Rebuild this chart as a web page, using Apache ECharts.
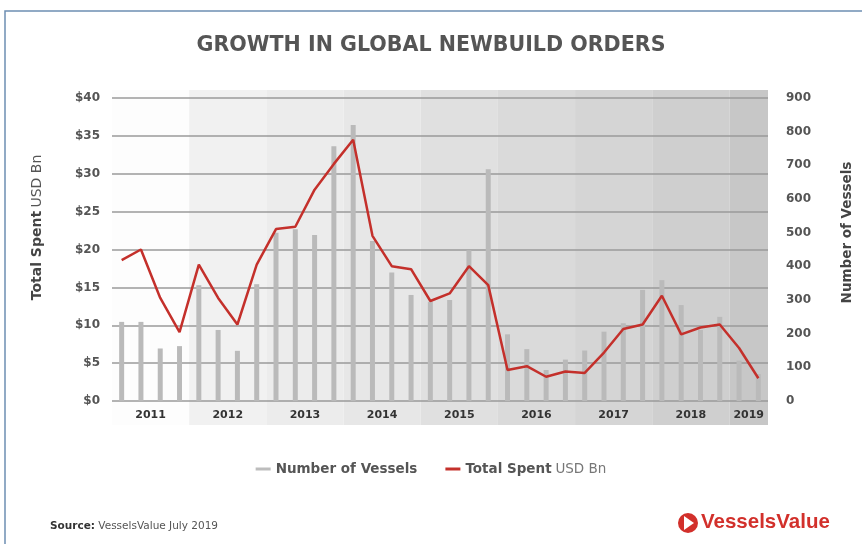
<!DOCTYPE html>
<html>
<head>
<meta charset="utf-8">
<script src="https://cdn.jsdelivr.net/npm/echarts@6/dist/echarts.min.js"></script>
<style>
html,body{margin:0;padding:0;background:#fff;}
#main{width:862px;height:544px;}
</style>
</head>
<body>
<div id="main"></div>
<script>
// ---- data ----
var quarters = ['2011 Q1','2011 Q2','2011 Q3','2011 Q4','2012 Q1','2012 Q2','2012 Q3','2012 Q4',
  '2013 Q1','2013 Q2','2013 Q3','2013 Q4','2014 Q1','2014 Q2','2014 Q3','2014 Q4',
  '2015 Q1','2015 Q2','2015 Q3','2015 Q4','2016 Q1','2016 Q2','2016 Q3','2016 Q4',
  '2017 Q1','2017 Q2','2017 Q3','2017 Q4','2018 Q1','2018 Q2','2018 Q3','2018 Q4',
  '2019 Q1','2019 Q2'];
var vessels = [235,235,156,163, 344,211,149,347, 500,510,493,757, 820,475,382,315,
  295,300,448,688, 198,154,92,123, 150,206,231,330, 359,285,211,250, 120,80];
var totalSpent = [18.6,20.0,13.6,9.1, 18.0,13.6,10.1,18.0, 22.7,23.0,27.9,31.3, 34.5,21.8,17.8,17.4,
  13.2,14.2,17.8,15.3, 4.1,4.6,3.2,3.9, 3.7,6.4,9.5,10.1, 13.9,8.8,9.7,10.1, 7.0,3.0];
var yearLabels = ['2011','2012','2013','2014','2015','2016','2017','2018','2019'];
var yearLabelPos = [2,6,10,14,18,22,26,30,33];
var yearBands = [[0,4],[4,8],[8,12],[12,16],[16,20],[20,24],[24,28],[28,32],[32,34]];

// ---- style ----
var bandShades = ['#fdfdfd','#f1f1f1','#ececec','#e7e7e7','#e0e0e0','#dadada','#d5d5d5','#cfcfcf','#c7c7c7'];
var FONT = '"DejaVu Sans", sans-serif';

var chart = echarts.init(document.getElementById('main'), null, {renderer:'canvas'});
var option = {
  backgroundColor: '#ffffff',
  animation: false,
  title: {
    text: 'GROWTH IN GLOBAL NEWBUILD ORDERS',
    left: 'center', top: 30,
    textStyle: {fontFamily: FONT, fontSize: 20.6, fontWeight: 'bold', color: '#555555'}
  },
  legend: {
    bottom: 63, left: 'center',
    itemWidth: 15, itemHeight: 3, itemGap: 28,
    data: [
      {name: 'Number of Vessels', icon: 'rect', itemStyle: {color: '#bdbdbd'}},
      {name: 'Total Spent', icon: 'rect', itemStyle: {color: '#c4302b'}}
    ],
    formatter: function (n) {
      return n === 'Total Spent' ? '{b|Total Spent} {n|USD Bn}' : '{b|' + n + '}';
    },
    textStyle: {
      fontFamily: FONT, color: '#555',
      rich: {
        b: {fontFamily: FONT, fontSize: 13.5, fontWeight: 'bold', color: '#555'},
        n: {fontFamily: FONT, fontSize: 13.5, color: '#777'}
      }
    }
  },
  grid: {left: 112, right: 92, top: 98, bottom: 143},
  xAxis: [
    {
      type: 'category', data: quarters, boundaryGap: true,
      axisLine: {show: false}, axisTick: {show: false}, axisLabel: {show: false},
      splitLine: {show: false}
    },
    {
      type: 'value', min: 0, max: 34, interval: 1, position: 'bottom',
      axisLine: {show: false}, axisTick: {show: false}, splitLine: {show: false},
      axisLabel: {
        margin: 9, fontFamily: FONT, fontSize: 11, fontWeight: 'bold', color: '#333',
        showMinLabel: true, showMaxLabel: true,
        formatter: function (v) {
          var i = yearLabelPos.indexOf(v);
          return i >= 0 ? yearLabels[i] : '';
        }
      }
    }
  ],
  yAxis: [
    {
      type: 'value', min: 0, max: 40, interval: 5, position: 'left',
      name: '{b|Total Spent} {n|USD Bn}', nameLocation: 'middle', nameGap: 68, nameRotate: 90,
      nameTextStyle: {
        padding: [0, 0, 0, 44],
        rich: {
          b: {fontFamily: FONT, fontSize: 14, fontWeight: 'bold', color: '#444'},
          n: {fontFamily: FONT, fontSize: 14, color: '#555'}
        }
      },
      axisLine: {show: false}, axisTick: {show: false},
      axisLabel: {margin: 12, fontFamily: FONT, fontSize: 12, fontWeight: 'bold', color: '#555',
        formatter: function (v) { return '$' + v; }},
      splitLine: {show: true, lineStyle: {color: '#9a9a9a', width: 1.5}}
    },
    {
      type: 'value', min: 0, max: 900, interval: 100, position: 'right',
      name: 'Number of Vessels', nameLocation: 'middle', nameGap: 72, nameRotate: 90,
      nameTextStyle: {fontFamily: FONT, fontSize: 13.5, fontWeight: 'bold', color: '#444', padding: [0, 0, 0, 34]},
      axisLine: {show: false}, axisTick: {show: false},
      axisLabel: {margin: 18, fontFamily: FONT, fontSize: 12, fontWeight: 'bold', color: '#555'},
      splitLine: {show: false}
    }
  ],
  series: [
    {
      type: 'custom', name: 'bands', xAxisIndex: 1, yAxisIndex: 0, z: -10, silent: true,
      clip: false,
      data: yearBands,
      renderItem: function (params, api) {
        var a = api.coord([api.value(0), 0]);
        var b = api.coord([api.value(1), 40]);
        return {
          type: 'rect',
          shape: {x: a[0], y: b[1] - 8, width: api.coord([api.value(1), 0])[0] - a[0], height: a[1] - b[1] + 32},
          style: {fill: bandShades[params.dataIndex]}
        };
      }
    },
    {
      name: 'Number of Vessels', type: 'bar', xAxisIndex: 0, yAxisIndex: 1,
      data: vessels, barWidth: 5,
      itemStyle: {color: '#bababa'}
    },
    {
      name: 'Total Spent', type: 'line', xAxisIndex: 0, yAxisIndex: 0,
      data: totalSpent, symbol: 'none',
      lineStyle: {color: '#c4302b', width: 2.5},
      itemStyle: {color: '#c4302b'}
    }
  ],
  graphic: [
    {type: 'rect', z: 100, silent: true,
      shape: {x: 5, y: 11, width: 900, height: 600},
      style: {fill: 'none', stroke: '#6d8fb3', lineWidth: 1.5}},
    {type: 'text', left: 50, top: 521, z: 100,
      style: {text: '{b|Source:} VesselsValue July 2019', fontFamily: FONT, fontSize: 10.5, fill: '#555',
        rich: {b: {fontFamily: FONT, fontSize: 10.5, fontWeight: 'bold', fill: '#333'}}}},
    {type: 'circle', z: 100, shape: {cx: 688, cy: 523, r: 10}, style: {fill: '#d2302b'}},
    {type: 'polygon', z: 101, shape: {points: [[684, 516], [684, 530], [694, 523]]}, style: {fill: '#ffffff'}},
    {type: 'text', left: 701, top: 512, z: 100,
      style: {text: 'VesselsValue', fontFamily: '"Liberation Sans Narrow", sans-serif', fontWeight: 'bold', fontSize: 20.5, fill: '#d2302b'}}
  ]
};
chart.setOption(option);
</script>
</body>
</html>
